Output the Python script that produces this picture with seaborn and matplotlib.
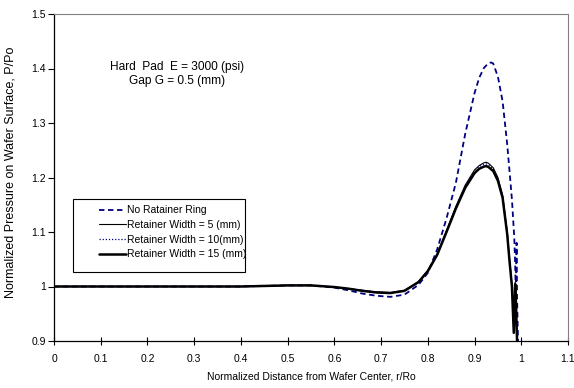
import numpy as np
import pandas as pd
import matplotlib
matplotlib.use("Agg")
import matplotlib.pyplot as plt
import seaborn as sns
from matplotlib.ticker import FuncFormatter
from matplotlib.patches import Rectangle

# ---- data ----
r_none = [0.0, 0.1, 0.2, 0.3, 0.4, 0.45, 0.5, 0.55, 0.6, 0.63, 0.66, 0.69, 0.72, 0.75,
          0.78, 0.8, 0.82, 0.84, 0.86, 0.88, 0.9, 0.91, 0.92, 0.93, 0.936, 0.94, 0.95,
          0.96, 0.97, 0.98, 0.985, 0.987, 0.988, 0.99, 0.991, 0.993]
p_none = [1.0, 1.0, 1.0, 1.0, 1.0, 1.001, 1.002, 1.002, 0.998, 0.993, 0.987, 0.983, 0.981, 0.985,
          1.003, 1.025, 1.068, 1.125, 1.19, 1.28, 1.355, 1.383, 1.401, 1.410, 1.411, 1.409, 1.385,
          1.34, 1.26, 1.16, 1.09, 1.04, 0.99, 1.08, 0.98, 0.90]

r_ret = [0.0, 0.1, 0.2, 0.3, 0.4, 0.45, 0.5, 0.55, 0.6, 0.63, 0.66, 0.69, 0.72, 0.75,
         0.78, 0.8, 0.82, 0.84, 0.86, 0.88, 0.9, 0.91, 0.92, 0.925, 0.93, 0.94, 0.95,
         0.96, 0.97, 0.975, 0.98, 0.984, 0.987, 0.989, 0.991]
p_w5 = [1.0, 1.0, 1.0, 1.0, 1.0, 1.001, 1.002, 1.002, 0.999, 0.996, 0.993, 0.990, 0.989, 0.993,
        1.009, 1.030, 1.060, 1.103, 1.147, 1.186, 1.214, 1.222, 1.227, 1.228, 1.226, 1.218, 1.200,
        1.168, 1.100, 1.050, 1.005, 0.918, 1.008, 0.96, 0.90]
p_w10 = [1.0, 1.0, 1.0, 1.0, 1.0, 1.001, 1.002, 1.002, 0.999, 0.996, 0.993, 0.990, 0.988, 0.992,
         1.008, 1.029, 1.059, 1.101, 1.145, 1.184, 1.212, 1.220, 1.224, 1.225, 1.223, 1.215, 1.197,
         1.166, 1.098, 1.048, 1.003, 0.917, 1.006, 0.96, 0.90]
p_w15 = [1.0, 1.0, 1.0, 1.0, 1.0, 1.001, 1.002, 1.002, 0.999, 0.996, 0.992, 0.989, 0.988, 0.992,
         1.008, 1.028, 1.058, 1.100, 1.143, 1.181, 1.208, 1.216, 1.220, 1.221, 1.219, 1.212, 1.194,
         1.163, 1.095, 1.045, 1.000, 0.915, 1.004, 0.96, 0.90]

labels = ["No Ratainer Ring", "Retainer Width = 5 (mm)",
          "Retainer Width = 10(mm)", "Retainer Width = 15 (mm)"]
x_ticks = [0, 0.1, 0.2, 0.3, 0.4, 0.5, 0.6, 0.7, 0.8, 0.9, 1.0, 1.1]
y_ticks = [0.9, 1.0, 1.1, 1.2, 1.3, 1.4, 1.5]
note = "Hard  Pad  E = 3000 (psi)\nGap G = 0.5 (mm)"
xlabel = "Normalized Distance from Wafer Center, r/Ro"
ylabel = "Normalized Pressure on Wafer Surface, P/Po"

# ---- style ----
sns.set_style("white")
plt.rcParams["font.family"] = ["Liberation Sans", "DejaVu Sans"]
plt.rcParams["text.color"] = "black"
plt.rcParams["axes.labelcolor"] = "black"
plt.rcParams["xtick.color"] = "black"
plt.rcParams["ytick.color"] = "black"
FS = 7.5

fig = plt.figure(figsize=(5.74, 3.88), dpi=100)
ax = fig.add_axes([54 / 574, 1 - 341 / 388, 514 / 574, 327 / 388])

navy = "#000080"
series = [
    (r_none, p_none, labels[0], dict(color=navy, lw=1.3, ls=(0, (3, 2)))),
    (r_ret, p_w5, labels[1], dict(color="black", lw=0.8, ls="-")),
    (r_ret, p_w10, labels[2], dict(color=navy, lw=0.9, ls=(0, (1, 1.5)))),
    (r_ret, p_w15, labels[3], dict(color="black", lw=1.8, ls="-")),
]
for rx, py, lab, st in series:
    df = pd.DataFrame({"r": rx, "p": py})
    sns.lineplot(data=df, x="r", y="p", ax=ax, estimator=None, sort=False,
                 color=st["color"], linewidth=st["lw"], linestyle=st["ls"], label=lab)

ax.set_xlim(0, 1.1)
ax.set_ylim(0.9, 1.5)
ax.set_xticks(x_ticks)
ax.set_yticks(y_ticks)
fmt = FuncFormatter(lambda v, p: f"{v:g}")
ax.xaxis.set_major_formatter(fmt)
ax.yaxis.set_major_formatter(fmt)
ax.tick_params(axis="x", direction="inout", length=6, width=0.8, labelsize=FS, pad=6,
               colors="black", labelcolor="black")
ax.tick_params(axis="y", direction="out", length=4, width=0.8, labelsize=FS, pad=2,
               colors="black", labelcolor="black")
ax.tick_params(left=True, bottom=True)

for s in ["left", "bottom"]:
    ax.spines[s].set_color("black")
    ax.spines[s].set_linewidth(0.9)
for s in ["top", "right"]:
    ax.spines[s].set_color("#808080")
    ax.spines[s].set_linewidth(0.8)

ax.set_xlabel(xlabel, fontsize=FS, labelpad=6, color="black")
ax.set_ylabel(ylabel, fontsize=9, color="black")
ax.yaxis.set_label_coords(-0.072, 0.515)

ax.text(0.264, 1.390, note, fontsize=8.6, ha="center", va="center", linespacing=1.3,
        color="black")

# legend box
rect = Rectangle((0.036, 0.211), 0.336, 0.223, transform=ax.transAxes,
                 facecolor="white", edgecolor="black", lw=0.8, zorder=5)
ax.add_patch(rect)
leg = ax.legend(loc="upper left", bbox_to_anchor=(0.087, 0.415), frameon=False,
                fontsize=FS, handlelength=2.6, handletextpad=0.15, labelspacing=0.45,
                borderpad=0, borderaxespad=0, labelcolor="black")
leg.set_zorder(6)

fig.savefig("out.png", dpi=100)
